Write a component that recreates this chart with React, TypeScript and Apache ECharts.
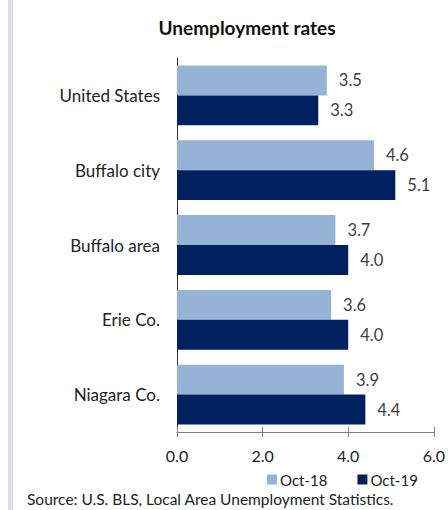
import React, { useEffect, useRef } from "react";
import * as echarts from "echarts";

const categories = ["United States", "Buffalo city", "Buffalo area", "Erie Co.", "Niagara Co."];
const oct18 = [3.5, 4.6, 3.7, 3.6, 3.9];
const oct19 = [3.3, 5.1, 4.0, 4.0, 4.4];
const seriesNames = ["Oct-18", "Oct-19"];
const xTicks = { min: 0, max: 6, interval: 2 };
const titleText = "Unemployment rates";
const sourceText = "Source: U.S. BLS, Local Area Unemployment Statistics.";

const FONT = "Lato, 'Open Sans', sans-serif";

export default function App() {
  const ref = useRef<HTMLDivElement>(null);
  useEffect(() => {
    if (!ref.current) return;
    const chart = echarts.init(ref.current, undefined, { renderer: "svg" });
    const labelCfg = {
      show: true,
      position: "right" as const,
      distance: 12,
      color: "#404040",
      fontSize: 16.5,
      fontFamily: FONT,
      formatter: (p: any) => Number(p.value).toFixed(1),
    };
    chart.setOption({
      animation: false,
      backgroundColor: "#ffffff",
      textStyle: { fontFamily: FONT },
      title: {
        text: titleText,
        left: 242,
        textAlign: "center",
        top: 13,
        textStyle: { fontSize: 19, fontWeight: "bold", color: "#111", fontFamily: FONT },
      },
      legend: {
        data: seriesNames,
        left: 262,
        top: 467,
        itemWidth: 10,
        itemHeight: 10,
        itemGap: 30,
        icon: "rect",
        textStyle: {
          fontSize: 15,
          lineHeight: 15,
          color: "#222",
          fontFamily: FONT,
          padding: [0, 0, 0, -2],
        },
      },
      grid: { left: 177, right: 10, top: 58, bottom: 78, containLabel: false },
      xAxis: [
        {
          type: "value",
          min: xTicks.min,
          max: xTicks.max,
          interval: xTicks.interval,
          axisLine: { show: true, lineStyle: { color: "#7f7f7f", width: 1 } },
          axisTick: { show: true, length: 5, lineStyle: { color: "#7f7f7f" } },
          axisLabel: {
            fontSize: 16,
            color: "#222",
            margin: 15,
            fontFamily: FONT,
            formatter: (v: number) => v.toFixed(1),
          },
          splitLine: { show: false },
        },
        {
          type: "value",
          position: "bottom",
          min: xTicks.min,
          max: xTicks.max,
          interval: xTicks.interval,
          axisLine: { show: false },
          axisTick: { show: true, inside: true, length: 5, lineStyle: { color: "#7f7f7f" } },
          axisLabel: { show: false },
          splitLine: { show: false },
        },
      ],
      yAxis: {
        type: "category",
        data: categories,
        inverse: true,
        axisLine: { show: true, lineStyle: { color: "#333", width: 1 } },
        axisTick: { show: false },
        axisLabel: { fontSize: 17, color: "#222", margin: 17, fontFamily: FONT },
      },
      series: [
        {
          name: seriesNames[0],
          type: "bar",
          data: oct18,
          itemStyle: { color: "#95b3d7" },
          barGap: "0%",
          barCategoryGap: "20%",
          label: labelCfg,
        },
        {
          name: seriesNames[1],
          type: "bar",
          data: oct19,
          itemStyle: { color: "#002060" },
          barGap: "0%",
          barCategoryGap: "20%",
          label: labelCfg,
        },
      ],
      graphic: [
        {
          type: "rect",
          left: 8,
          top: 0,
          shape: { width: 5, height: 510 },
          style: { fill: "#d8dfea" },
          silent: true,
        },
        {
          type: "text",
          left: 27,
          top: 491,
          style: {
            text: sourceText,
            fontSize: 15.5,
            lineHeight: 16,
            fill: "#222",
            fontFamily: FONT,
          },
          silent: true,
        },
      ],
    });
    return () => chart.dispose();
  }, []);
  return (
    <div
      ref={ref}
      style={{ position: "absolute", left: 0, top: 0, width: 448, height: 510 }}
    />
  );
}
